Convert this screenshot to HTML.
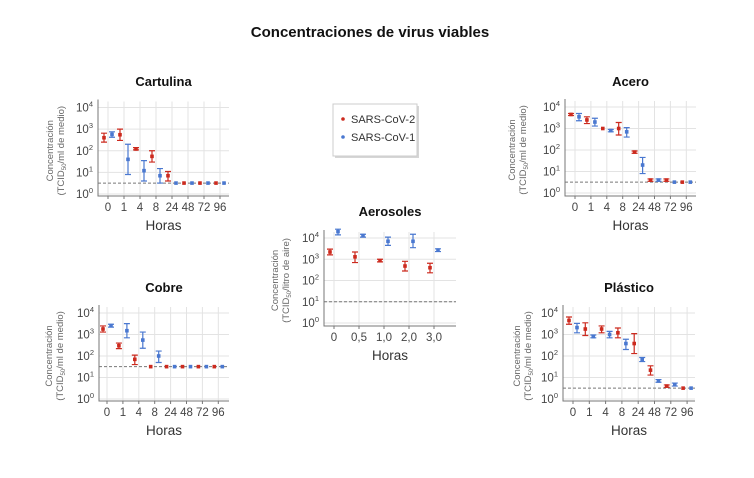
<!DOCTYPE html>
<html><head><meta charset="utf-8"><style>
body{margin:0;background:#fff;}
svg{display:block;font-family:"Liberation Sans",sans-serif;}
</style></head><body>
<svg id="c" width="754" height="478" viewBox="0 0 754 478">
<text x="370" y="37" text-anchor="middle" font-size="15" font-weight="bold" fill="#111">Concentraciones de virus viables</text>
<g>
<rect x="335" y="106" width="84" height="52" fill="#bbb" opacity="0.6"/>
<rect x="333" y="104" width="84" height="52" fill="#fff" stroke="#ccc"/>
<circle cx="343" cy="119" r="1.8" fill="#cc2a1e"/>
<text x="351" y="123" font-size="11" fill="#333">SARS-CoV-2</text>
<circle cx="343" cy="137" r="1.8" fill="#4a78d0"/>
<text x="351" y="141" font-size="11" fill="#333">SARS-CoV-1</text>
</g>
</svg>
<script>
// ---- data ----
const hourCats = ["0","1","4","8","24","48","72","96"];
const aeroCats = ["0","0,5","1,0","2,0","3,0"];
const yTickExps = [0,1,2,3,4];
// Cartulina
const cartRed = [400,550,120,55,7,3.2,3.2,3.2];
const cartRedLo = [250,300,110,30,4,3.2,3.2,3.2];
const cartRedHi = [650,1000,140,100,11,3.2,3.2,3.2];
const cartBlue = [570,40,12,7,3.2,3.2,3.2,3.2];
const cartBlueLo = [420,8,4,3.2,3.2,3.2,3.2,3.2];
const cartBlueHi = [750,200,35,15,3.2,3.2,3.2,3.2];
// Acero
const aceRed = [4500,2500,1000,1000,80,4,4,3.2];
const aceRedLo = [4000,1700,950,500,70,3.5,3.5,3.2];
const aceRedHi = [5000,3500,1050,1900,90,4.5,4.5,3.2];
const aceBlue = [3500,2000,800,700,20,4,3.2,3.2];
const aceBlueLo = [2300,1300,700,400,8,3.5,3.2,3.2];
const aceBlueHi = [5000,3000,900,1100,45,4.5,3.2,3.2];
// Cobre
const cobRed = [1800,300,70,32,32,32,32,32];
const cobRedLo = [1300,220,40,32,32,32,32,32];
const cobRedHi = [2500,400,110,32,32,32,32,32];
const cobBlue = [2600,1500,550,100,32,32,32,32];
const cobBlueLo = [2200,700,230,50,32,32,32,32];
const cobBlueHi = [3000,3200,1300,170,32,32,32,32];
// Plastico
const plaRed = [4500,1800,1800,1200,380,22,4,3.2];
const plaRedLo = [3000,900,1200,700,130,13,3.5,3.2];
const plaRedHi = [6500,3500,2500,2000,1100,35,4.5,3.2];
const plaBlue = [2100,800,1000,380,70,7,4.7,3.2];
const plaBlueLo = [1200,700,700,200,55,6,4,3.2];
const plaBlueHi = [3300,950,1400,600,85,8,5.5,3.2];
// Aerosoles
const aerRed = [2200,1300,850,480,400];
const aerRedLo = [1600,700,750,280,230];
const aerRedHi = [3000,2200,1000,800,650];
const aerBlue = [20000,13000,7000,7000,2700];
const aerBlueLo = [14000,11000,4500,3500,2300];
const aerBlueHi = [26000,15000,11000,15000,3100];
const limits = {cart:3.2, ace:3.2, cob:32, pla:3.2, aer:10};

const svg = document.getElementById('c');
const NS = 'http://www.w3.org/2000/svg';
function mk(tag, at, parent){const e=document.createElementNS(NS,tag);for(const k in at)e.setAttribute(k,at[k]);(parent||svg).appendChild(e);return e;}

function panel(cfg){
  const g = mk('g',{});
  
  
  const yOf = v => cfg.y0 - (Math.log10(v))*(cfg.y0-cfg.y4)/4;
  const xOf = i => cfg.x0 + i*cfg.dx;
  yTickExps.forEach(e=>{
    const y=yOf(Math.pow(10,e));
    const l=mk('line',{x1:cfg.left,x2:cfg.right,y1:y,y2:y,stroke:'#e3e3e3','stroke-width':1},g);
    
    
    const t=mk('text',{x:cfg.left-5,y:y+4,'text-anchor':'end','font-size':11.5,fill:'#444'},g);
    
    
    t.textContent='10';
    const s=mk('tspan',{dy:-5,'font-size':7.5},t); s.textContent=e;
  });
  cfg.cats.forEach((c,i)=>{
    const x=xOf(i);
    const l=mk('line',{x1:x,x2:x,y1:cfg.y4-6,y2:cfg.bottom,stroke:'#e3e3e3','stroke-width':1},g);
    
    
    mk('line',{x1:x,x2:x,y1:cfg.bottom,y2:cfg.bottom+3,stroke:'#777'},g);
    const t=mk('text',{x:x,y:cfg.bottom+15,'text-anchor':'middle','font-size':11.5,fill:'#444'},g);
    
    
    t.textContent=c;
  });
  const ax=mk('path',{d:`M${cfg.left},${cfg.y4-8}V${cfg.bottom}H${cfg.right}`,fill:'none',stroke:'#777','stroke-width':1},g);
  
  
  const ly=yOf(cfg.limit);
  const dl=mk('line',{x1:cfg.left,x2:cfg.right,y1:ly,y2:ly,stroke:'#777','stroke-dasharray':'3,2'},g);
  
  
  [[cfg.red,cfg.redLo,cfg.redHi,'#cc2a1e',-cfg.off,'sars-cov-2'],[cfg.blue,cfg.blueLo,cfg.blueHi,'#4a78d0',cfg.off,'sars-cov-1']].forEach(([v,lo,hi,col,o,nm])=>{
    v.forEach((val,i)=>{
      const x=xOf(i)+o, y1=yOf(lo[i]), y2=yOf(hi[i]);
      if(Math.abs(y1-y2)>1.5){
        const eb=mk('path',{d:`M${x},${y1}V${y2}M${x-3},${y1}H${x+3}M${x-3},${y2}H${x+3}`,stroke:col,'stroke-width':1.2,fill:'none'},g);
        
        
      }
      const p=mk('rect',{x:x-1.8,y:yOf(val)-1.8,width:3.6,height:3.6,fill:col},g);
      
      
    });
  });
  const tt=mk('text',{x:(cfg.left+cfg.right)/2,y:cfg.titleY,'text-anchor':'middle','font-size':13,'font-weight':'bold',fill:'#111'},g);
  
  
  tt.textContent=cfg.title;
  const xt=mk('text',{x:(cfg.left+cfg.right)/2,y:cfg.bottom+34,'text-anchor':'middle','font-size':13.5,fill:'#333'},g);
  
  
  xt.textContent='Horas';
  const cy=(cfg.y4+cfg.y0)/2;
  const y1=mk('text',{transform:`translate(${cfg.labX},${cy}) rotate(-90)`,'text-anchor':'middle','font-size':9.5,fill:'#666'},g);
  
  
  y1.textContent='Concentración';
  const y2=mk('text',{transform:`translate(${cfg.labX+11},${cy}) rotate(-90)`,'text-anchor':'middle','font-size':9.5,fill:'#666'},g);
  
  
  y2.textContent='(TCID';
  const sb=mk('tspan',{'font-size':6,dy:2},y2); sb.textContent='50';
  const rs=mk('tspan',{dy:-2},y2); rs.textContent=cfg.unit;
}

panel({id:'cartulina',title:'Cartulina',cats:hourCats,x0:108,dx:16,left:98,right:229,bottom:196,y0:194,y4:107.5,titleY:86,labX:53,off:4,limit:limits.cart,unit:'/ml de medio)',red:cartRed,redLo:cartRedLo,redHi:cartRedHi,blue:cartBlue,blueLo:cartBlueLo,blueHi:cartBlueHi});
panel({id:'acero',title:'Acero',cats:hourCats,x0:575,dx:15.9,left:565,right:696,bottom:196,y0:193,y4:107,titleY:86,labX:515,off:4,limit:limits.ace,unit:'/ml de medio)',red:aceRed,redLo:aceRedLo,redHi:aceRedHi,blue:aceBlue,blueLo:aceBlueLo,blueHi:aceBlueHi});
panel({id:'cobre',title:'Cobre',cats:hourCats,x0:107,dx:15.9,left:99,right:229,bottom:401,y0:399,y4:313,titleY:292,labX:52,off:4,limit:limits.cob,unit:'/ml de medio)',red:cobRed,redLo:cobRedLo,redHi:cobRedHi,blue:cobBlue,blueLo:cobBlueLo,blueHi:cobBlueHi});
panel({id:'plastico',title:'Plástico',cats:hourCats,x0:573,dx:16.3,left:563,right:695,bottom:401,y0:399,y4:313,titleY:292,labX:520,off:4,limit:limits.pla,unit:'/ml de medio)',red:plaRed,redLo:plaRedLo,redHi:plaRedHi,blue:plaBlue,blueLo:plaBlueLo,blueHi:plaBlueHi});
panel({id:'aerosoles',title:'Aerosoles',cats:aeroCats,x0:334,dx:25,left:324,right:456,bottom:326,y0:323,y4:238,titleY:216,labX:278,off:4,limit:limits.aer,unit:'/litro de aire)',red:aerRed,redLo:aerRedLo,redHi:aerRedHi,blue:aerBlue,blueLo:aerBlueLo,blueHi:aerBlueHi});
</script>
</body></html>
